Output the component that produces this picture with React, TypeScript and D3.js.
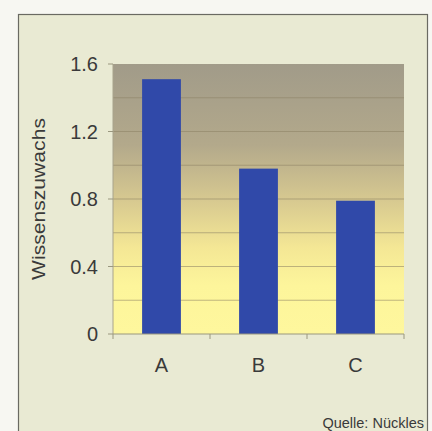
import React from "react";
import * as d3 from "d3";

const categories = ["A", "B", "C"];
const values = [1.51, 0.98, 0.79];
const yTicks = [0, 0.4, 0.8, 1.2, 1.6];
const gridTicks = [0.2, 0.4, 0.6, 0.8, 1.0, 1.2, 1.4];
const yLabel = "Wissenszuwachs";
const source = "Quelle: Nückles";

export default function App() {
  const W = 432, H = 431;
  const left = 113, right = 404, top = 64, bottom = 334;
  const x = d3.scaleBand<string>().domain(categories).range([left, right]).paddingInner(0.6).paddingOuter(0.3);
  const xb = d3.scaleBand<string>().domain(categories).range([left, right]);
  const y = d3.scaleLinear().domain([0, 1.6]).range([bottom, top]);
  const font = "Liberation Sans, Arial, sans-serif";
  return (
    <svg width={W} height={H} style={{ position: "absolute", left: 0, top: 0, display: "block" }}>
      <defs>
        <linearGradient id="bg" x1="0" y1="0" x2="0" y2="1">
          <stop offset="0" stopColor="#a19b89" />
          <stop offset="0.3" stopColor="#b3a98b" />
          <stop offset="0.5" stopColor="#d6c890" />
          <stop offset="0.68" stopColor="#f4e795" />
          <stop offset="0.82" stopColor="#fdf59b" />
          <stop offset="1" stopColor="#fef79d" />
        </linearGradient>
      </defs>
      <rect x={0} y={0} width={W} height={H} fill="#f7f7f2" />
      <rect x={18.5} y={14.5} width={409} height={430} fill="#e9ead3" stroke="#6a6a62" strokeWidth={1.2} />
      <rect x={left} y={top} width={right - left} height={bottom - top} fill="url(#bg)" />
      {gridTicks.map((t) => (
        <line key={t} x1={left} x2={right} y1={y(t)} y2={y(t)} stroke="#8c8264" strokeOpacity={0.55} strokeWidth={1} />
      ))}
      {categories.map((c, i) => (
        <rect key={c} x={x(c)} y={y(values[i])} width={x.bandwidth()} height={bottom - y(values[i])} fill="#3049a9" />
      ))}
      <line x1={left} x2={left} y1={top} y2={bottom} stroke="#a8a48c" strokeWidth={1} />
      <line x1={left} x2={right} y1={bottom} y2={bottom} stroke="#9a977f" strokeWidth={1} />
      {yTicks.map((t) => (
        <g key={t}>
          <line x1={left - 5} x2={left} y1={y(t)} y2={y(t)} stroke="#9a977f" />
          <text x={98} y={y(t)} dy="0.36em" textAnchor="end" fontFamily={font} fontSize={20} fill="#3a3a3a">
            {t === 0 ? "0" : t.toFixed(1)}
          </text>
        </g>
      ))}
      {[...categories.map((c) => xb(c) as number), right].map((v, i) => (
        <line key={i} x1={v} x2={v} y1={bottom} y2={bottom + 5} stroke="#9a977f" />
      ))}
      {categories.map((c) => (
        <text key={c} x={(x(c) as number) + x.bandwidth() / 2} y={372} textAnchor="middle" fontFamily={font} fontSize={20} fill="#3a3a3a">
          {c}
        </text>
      ))}
      <text transform={`translate(45,199) rotate(-90)`} textAnchor="middle" fontFamily={font} fontSize={19} textLength={162} lengthAdjust="spacingAndGlyphs" fill="#3a3a3a">
        {yLabel}
      </text>
      <text x={424} y={428} textAnchor="end" fontFamily={font} fontSize={14.5} fill="#3a3a3a">
        {source}
      </text>
    </svg>
  );
}
